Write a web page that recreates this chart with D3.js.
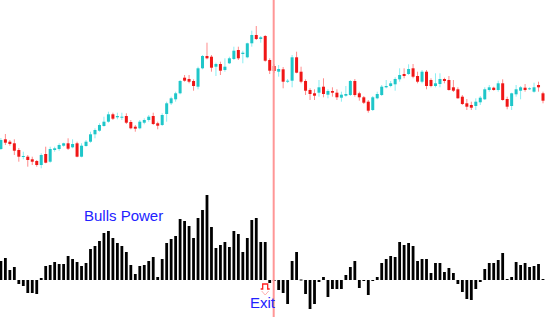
<!DOCTYPE html>
<html>
<head>
<meta charset="utf-8">
<script src="https://cdn.jsdelivr.net/npm/d3@7"></script>
<style>
body { margin: 0; background: #fff; }
svg { display: block; }
text { font-family: "Liberation Sans", Arial, sans-serif; }
</style>
</head>
<body>
<svg id="chart"></svg>
<script>
// candle prices (arbitrary units)
const open = [31, 40.7, 38.3, 36.7, 30, 23, 23.3, 20.7, 19, 15, 26, 18.3, 30, 31, 34.3, 36.7, 32.7, 36.7, 23.3, 34,
    38.3, 45.7, 49.3, 54, 58.3, 65.7, 62.7, 62.7, 64, 58, 53.3, 51.7, 57.3, 60, 64, 56.7, 55, 66, 76.7, 80.7,
    86.7, 102.3, 101, 99, 93.3, 111.7, 124, 123.3, 113.3, 116, 110, 116.7, 121, 130, 126, 122.7, 136.7, 145, 141, 144,
    120, 114, 108.3, 110.7, 98.3, 99.3, 122.7, 108.3, 99, 90, 86.7, 87.3, 93.3, 85.3, 89, 87.3, 82.3, 84.3, 85, 99,
    86.7, 82.7, 78.3, 70, 81.7, 85, 92.7, 94, 95.7, 100.7, 106, 106, 111.7, 104, 98.3, 108.3, 100, 94, 96, 101,
    100, 92.7, 90.7, 83.3, 76.7, 75, 74, 77.7, 80.7, 90, 92.3, 90, 96.7, 81, 74, 85.7, 89.3, 92.3, 90.7, 88.3,
    95, 86.7];
const high = [42, 46, 40, 40.7, 32, 28.3, 25, 23.3, 20, 26.7, 33.3, 33.3, 33.3, 36.7, 37.3, 41.7, 40.7, 38.3, 36.7, 40,
    48.3, 51.7, 56.7, 63.3, 68.3, 67.3, 67.3, 67.3, 66.7, 60, 55, 60, 61.7, 65, 67.3, 58.3, 66.7, 78.3, 83.3, 88.3,
    100, 105, 105, 100.7, 113.3, 125, 137.3, 125, 117.3, 118.3, 121.7, 123.3, 133.3, 133.3, 129.3, 137.3, 149.3, 154, 144, 145,
    121.7, 116, 115, 113, 101, 125, 128.3, 113.3, 100.7, 91.7, 90.7, 100, 101.7, 90.7, 92.7, 90.7, 88.3, 94, 100, 101,
    88.3, 84, 80, 84, 88.3, 95, 100, 99, 102.7, 111.7, 111.7, 115.7, 116, 108.3, 110, 110, 101.7, 106.7, 106.7, 102.3,
    104, 100, 92.7, 85, 81, 78.3, 81.7, 84, 92.7, 95, 93.3, 99.3, 100.7, 83.3, 87.3, 95, 94, 96, 92.7, 97.3,
    98.3, 88.3];
const low = [30, 35, 34.3, 25, 18.3, 20.7, 13.3, 15, 13.3, 11.7, 16.7, 17.3, 28.3, 29.3, 33.3, 30, 31.7, 22.7, 22.7, 33.3,
    37.3, 41.7, 48.3, 53.3, 57.3, 60, 60.7, 60, 56, 50.7, 48.3, 50.7, 55.7, 58.3, 55, 50.7, 54, 58.3, 75, 78.3,
    85.7, 98.3, 96.7, 89.3, 90.7, 110.7, 120.7, 108.3, 104, 105, 108.3, 116, 120, 120, 116.7, 121.7, 133.3, 140, 137.3, 118.3,
    106, 107, 103.3, 91.7, 97, 92.7, 106.7, 96.7, 85, 80, 80, 83.3, 82.7, 81.7, 83.3, 80, 78.3, 83.3, 84, 83.3,
    79.3, 76, 67.3, 69, 80.7, 84, 91.7, 92.7, 89.3, 98.3, 101.7, 105, 101.7, 96.7, 96.7, 90.7, 92.7, 92.7, 92.7, 96.7,
    89.3, 88, 81.3, 75, 70, 70, 70, 75, 80, 88.3, 89.3, 88.3, 79.3, 70.7, 70, 83.3, 80.7, 88.3, 90, 87.3,
    88.3, 76.7];
const close = [40, 37.3, 36, 29.3, 23.3, 24, 20, 18.3, 15, 25, 17.3, 31, 31.7, 35, 36.7, 31.3, 36, 23.3, 34.3, 38.3,
    45.7, 50, 55, 58.3, 65.7, 61.3, 64, 63.3, 57.3, 51.7, 51.3, 58.3, 60, 63.3, 56, 54.3, 65, 76.7, 81.7, 86.7,
    99, 99.3, 98.3, 94, 111.7, 124, 121.7, 112.3, 116, 109.3, 113.3, 121.7, 129.3, 121.7, 127.3, 136.7, 145, 141, 142.7, 119.3,
    109.3, 109, 111, 98.3, 99.3, 122.7, 107.3, 98.3, 89.3, 86, 84.3, 92.7, 86, 89, 87.3, 82.7, 85.3, 86, 99, 85,
    82.7, 77.3, 69.3, 82.7, 86, 93.3, 94, 96.7, 101, 105, 104, 111, 103.3, 98.3, 108.3, 94, 94, 96.7, 101, 99,
    90, 89.3, 81.7, 76, 73.3, 72.3, 78.3, 82.3, 90.7, 92.7, 90, 96.7, 80, 73.3, 86.7, 90.7, 92.7, 90, 91.7, 92.7,
    92.7, 79.3];

// Bulls Power histogram
const bullsPower = [19, 22, 10, 13, -4, -6, -13, -13, -14, 2, 14, 15, 18, 16, 16, 24, 21, 18, 14, 17,
    31, 34, 39, 47, 49, 42, 37, 34, 28, 15, 6, 14, 15, 19, 23, 3, 21, 37, 41, 44,
    61, 59, 54, 42, 62, 70, 85, 53, 32, 35, 38, 33, 49, 46, 28, 42, 60, 62, 38, 38,
    -3, -1, -10, -13, -24, 19, 28, 0.5, -14, -29, -24, -2, 3, -17, -9, -9, -9, 5, 13, 19,
    -8, -1, -15, -1, 3, 17, 21, 24, 23, 38, 35, 37, 34, 19, 21, 21, 7, 17, 17, 8,
    12, 7, -4, -12, -19, -20, -9, -2, 11, 17, 17, 20, 27, 1, 3, 18, 15, 17, 13, 14,
    16, 1];

const exitIndex = 61;
const indicatorLabel = "Bulls Power";
const exitLabel = "Exit";

const width = 548;
const height = 317;

const upBody = "#1fc6c9";
const upWick = "#8aeef2";
const downBody = "#f01616";
const downWick = "#ff8c8c";

const svg = d3.select("#chart")
    .attr("width", width)
    .attr("height", height);

const x = d3.scaleLinear()
    .domain([0, open.length - 1])
    .range([0.9, 543]);

const y = d3.scaleLinear()
    .domain([0, 180])
    .range([180, 0]);

const yInd = d3.scaleLinear()
    .domain([-30, 90])
    .range([310, 190]);

const idx = d3.range(open.length);

// wicks
svg.append("g")
    .selectAll("line")
    .data(idx)
    .enter()
    .append("line")
    .attr("x1", (i) => x(i))
    .attr("x2", (i) => x(i))
    .attr("y1", (i) => y(high[i]))
    .attr("y2", (i) => y(low[i]))
    .attr("stroke", (i) => close[i] >= open[i] ? upWick : downWick)
    .attr("stroke-width", 1);

// bodies
svg.append("g")
    .selectAll("rect")
    .data(idx)
    .enter()
    .append("rect")
    .attr("x", (i) => x(i) - 1.5)
    .attr("width", 3)
    .attr("y", (i) => y(Math.max(open[i], close[i])))
    .attr("height", (i) => Math.max(1, Math.abs(y(open[i]) - y(close[i]))))
    .attr("fill", (i) => close[i] >= open[i] ? upBody : downBody);

// histogram
svg.append("g")
    .selectAll("rect")
    .data(bullsPower)
    .enter()
    .append("rect")
    .attr("x", (d, i) => x(i) - 1.4)
    .attr("width", 2.8)
    .attr("y", (d) => yInd(Math.max(0, d)))
    .attr("height", (d) => Math.max(1, Math.abs(yInd(d) - yInd(0))))
    .attr("fill", "#000");

// exit line
svg.append("line")
    .attr("x1", x(exitIndex) - 0.5)
    .attr("x2", x(exitIndex) - 0.5)
    .attr("y1", 0)
    .attr("y2", height)
    .attr("stroke", "#ff9696")
    .attr("stroke-width", 2);

// exit marker
const mx = x(exitIndex) - 9.5;
const my = yInd(-4);
svg.append("path")
    .attr("d", `M${mx - 4},${my + 5} L${mx - 2},${my + 5} L${mx - 2},${my} L${mx + 3},${my} L${mx + 3},${my + 5} L${mx + 5},${my + 5}`)
    .attr("fill", "none")
    .attr("stroke", "#ff2020")
    .attr("stroke-width", 1.3);
svg.append("path")
    .attr("d", `M${mx - 3},${my + 7} L${mx + 0.5},${my + 11} L${mx + 4},${my + 7}`)
    .attr("fill", "none")
    .attr("stroke", "#ffb0b0")
    .attr("stroke-width", 1);

svg.append("text")
    .attr("x", 84)
    .attr("y", 221)
    .attr("font-size", 15)
    .attr("fill", "#2222ff")
    .text(indicatorLabel);

svg.append("text")
    .attr("x", 250)
    .attr("y", 307.5)
    .attr("font-size", 15)
    .attr("fill", "#2222ff")
    .text(exitLabel);
</script>
</body>
</html>
